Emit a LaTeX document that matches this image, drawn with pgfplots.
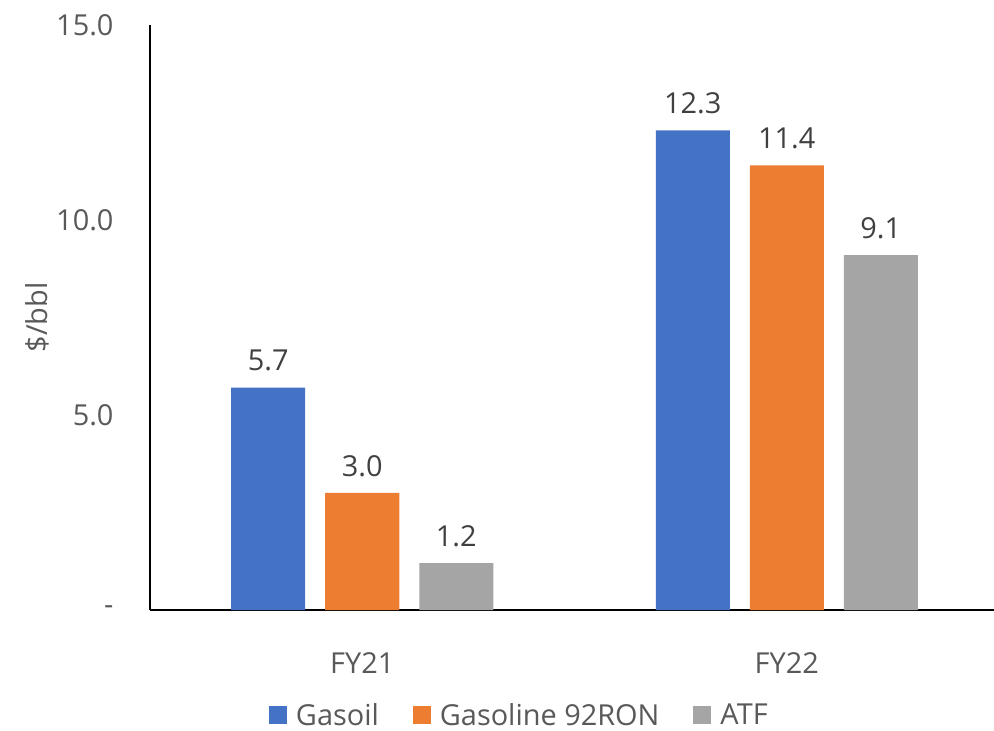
\documentclass[border=0pt]{standalone}
\usepackage{pgfplots}
\pgfplotsset{compat=1.18}
\usepackage{fontspec}
\setmainfont{Open Sans}
\definecolor{cblue}{HTML}{4472C4}
\definecolor{corange}{HTML}{ED7D31}
\definecolor{cgray}{HTML}{A5A5A5}
\definecolor{ctick}{HTML}{595959}
\definecolor{clab}{HTML}{404040}
\begin{document}
\begin{tikzpicture}
\path[use as bounding box] (-150bp,-121bp) rectangle (844bp,610bp);
\begin{axis}[
  scale only axis,
  width=849bp, height=585bp,
  at={(0,0)}, anchor=south west,
  ybar=20bp, bar width=74bp,
  xmin=-0.5, xmax=1.5,
  ymin=0, ymax=15,
  xtick={0,1}, xticklabels={FY21,FY22},
  ytick={0,5,10,15}, yticklabels={-\hspace{18bp},5.0,10.0,15.0},
  axis x line*=bottom, axis y line*=left,
  axis line style={black, line width=1.5bp, -},
  major tick length=0pt,
  tick label style={font=\fontsize{29}{34}\selectfont, text=ctick},
  yticklabel style={xshift=-33bp},
  xticklabel style={yshift=-39bp},
  ylabel={\$/bbl},
  ylabel style={font=\fontsize{29}{34}\selectfont, text=ctick, at={(rel axis cs:0,0.5)}, anchor=center, yshift=113bp},
  nodes near coords,
  every node near coord/.append style={font=\fontsize{29}{34}\selectfont, text=clab, yshift=13bp},
  /pgf/number format/.cd, fixed, fixed zerofill, precision=1, assume math mode=true,
  /pgfplots/.cd,
  legend style={draw=none, at={(rel axis cs:0.435,0)}, anchor=center, yshift=-105bp, font=\fontsize{29}{34}\selectfont, text=ctick,
    /tikz/every odd column/.append style={column sep=7bp},
    /tikz/every even column/.append style={column sep=32bp}},
  legend columns=-1,
  legend image code/.code={\fill[#1] (0bp,-9bp) rectangle (18bp,9bp);},
]
\addplot[fill=cblue, draw=none] coordinates {(0,5.7) (1,12.3)};
\addplot[fill=corange, draw=none] coordinates {(0,3.0) (1,11.4)};
\addplot[fill=cgray, draw=none] coordinates {(0,1.2) (1,9.1)};
\legend{Gasoil, Gasoline 92RON, ATF}
\end{axis}
\end{tikzpicture}
\end{document}
